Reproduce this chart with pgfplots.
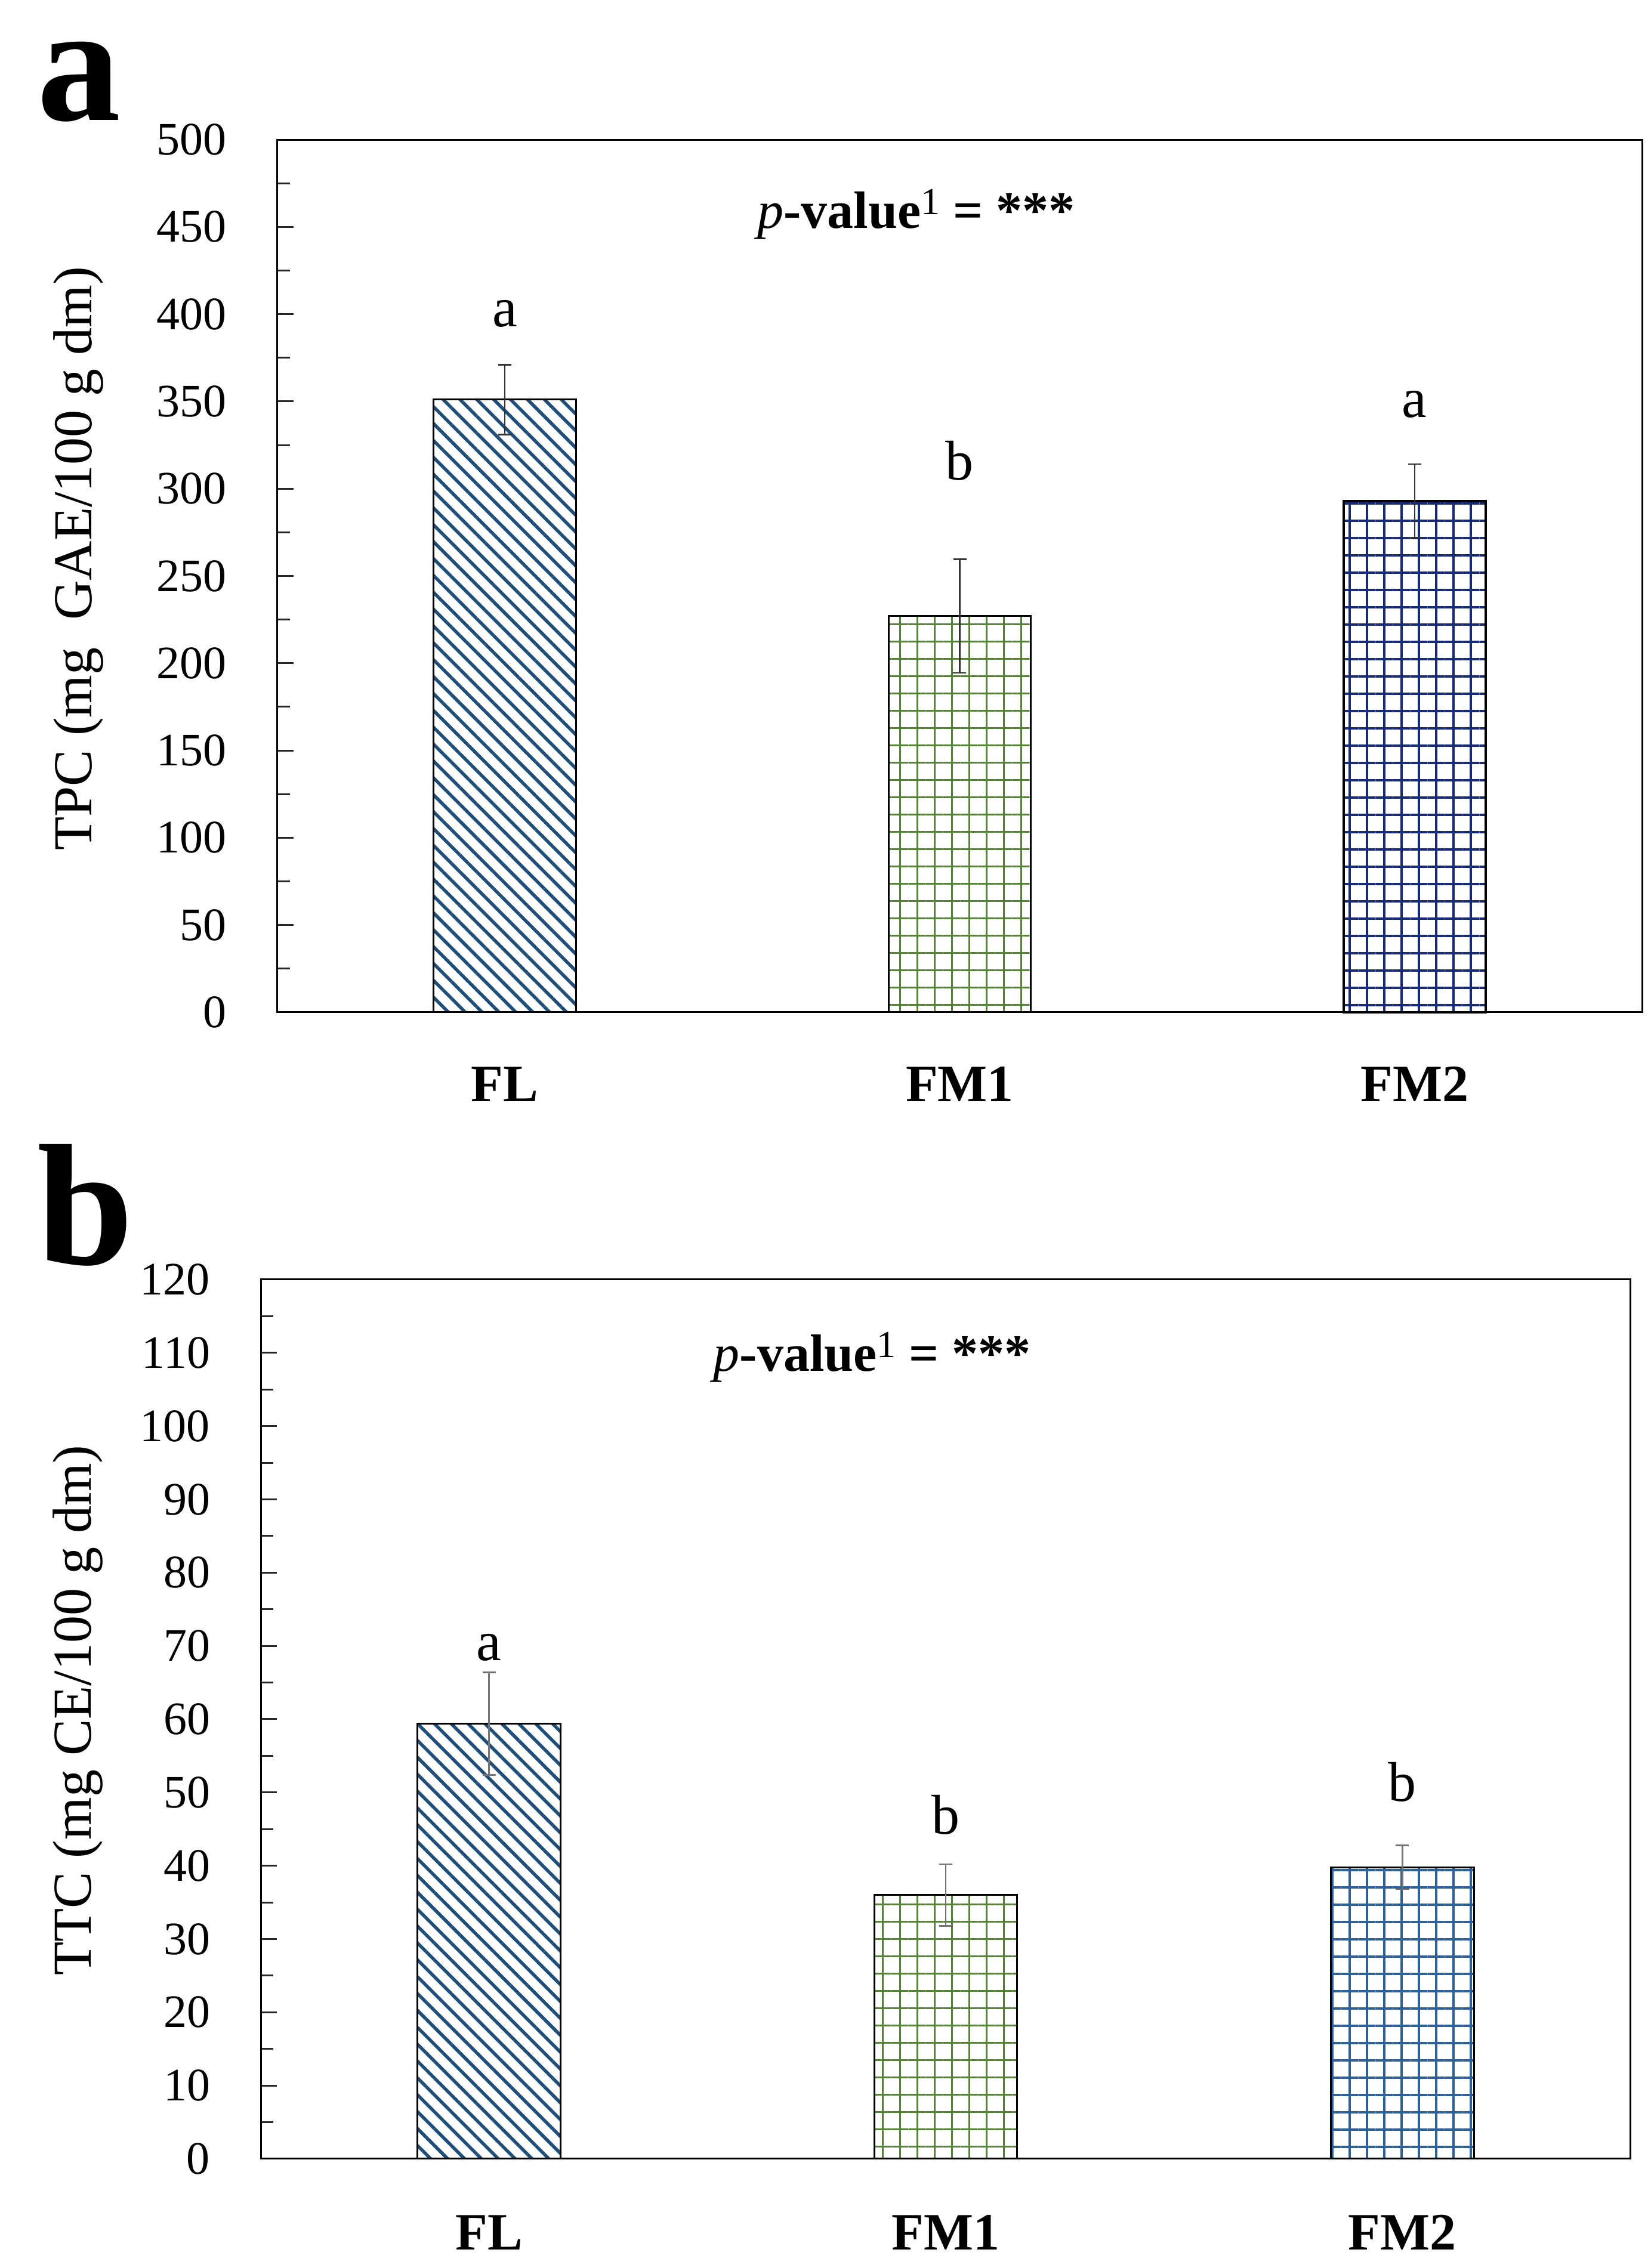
\documentclass[border=0pt]{standalone}
\usepackage{fontspec}
\setmainfont{Liberation Serif}
\usepackage{pgfplots}
\pgfplotsset{compat=1.18}
\usetikzlibrary{patterns.meta}
\definecolor{flblue}{RGB}{31,78,121}
\definecolor{fmgreen}{RGB}{84,130,53}
\definecolor{fmnavy}{RGB}{22,42,118}
\definecolor{fmblue}{RGB}{46,95,150}

\newcommand{\pval}{\textit{p}\textbf{-value}\raisebox{2.3pt}{\fontsize{6.4}{7}\selectfont 1}\textbf{ = ***}}

\pgfplotsset{
  panel/.style={
    scale only axis,
    ybar,
    xmin=-0.5, xmax=2.5, ymin=0,
    xtick={0,1,2}, xticklabels={FL,FM1,FM2},
    xtick style={draw=none},
    ytick pos=left,
    tick align=inside,
    major tick length=2.7pt,
    minor tick length=2.1pt,
    minor y tick num=1,
    axis line style={line width=0.3pt},
    every tick/.style={line width=0.3pt, black!85},
    /pgf/number format/assume math mode=true,
    yticklabel style={font=\fontsize{7.8}{9}\selectfont, inner sep=0pt, anchor=east, xshift=-8.3pt},
    xticklabel style={font=\fontsize{8.8}{10}\selectfont\bfseries, inner sep=0pt, anchor=base},
    ylabel style={font=\fontsize{9.2}{11}\selectfont, inner sep=0pt, anchor=base},
    bar width=0.313,
    clip=false,
  },
}

\begin{document}
\begin{tikzpicture}
\path[use as bounding box] (0,0) rectangle (276.6pt,380.2pt);

% ---------- panel a ----------
\begin{axis}[panel, at={(46.5pt,210.5pt)}, anchor=south west,
  width=228.7pt, height=146.3pt, ymax=500, ytick={0,50,...,500},
  xticklabel style={yshift=-15pt},
  ylabel={TPC (mg~~GAE/100 g dm)},
  ylabel style={at={(axis description cs:-0.1364,0.52)}},
]
\addplot[bar shift=0pt, draw=black, line width=0.3pt,
  pattern={Lines[angle=-45,distance=2.0pt,line width=0.55pt]}, pattern color=flblue,
  error bars/.cd, y dir=both, y explicit,
  error bar style={line width=0.25pt, color=black!80},
  error mark options={rotate=90, line width=0.25pt, mark size=1.1pt, color=black!80}]
  coordinates {(0,351) +- (0,20)};
\addplot[bar shift=0pt, draw=black, line width=0.3pt,
  pattern={Hatch[angle=0,distance=2.9pt,line width=0.3pt]}, pattern color=fmgreen,
  error bars/.cd, y dir=both, y explicit,
  error bar style={line width=0.25pt, color=black!80},
  error mark options={rotate=90, line width=0.25pt, mark size=1.1pt, color=black!80}]
  coordinates {(1,227) +- (0,32.5)};
\addplot[bar shift=0pt, draw=black, line width=0.4pt,
  pattern={Hatch[angle=0,distance=2.9pt,line width=0.4pt]}, pattern color=fmnavy,
  error bars/.cd, y dir=both, y explicit,
  error bar style={line width=0.25pt, color=black!80},
  error mark options={rotate=90, line width=0.25pt, mark size=1.1pt, color=black!80}]
  coordinates {(2,293) +- (0,21)};
\node[anchor=base, inner sep=0pt, font=\fontsize{9.4}{11}\selectfont] at (axis cs:0,393) {a};
\node[anchor=base, inner sep=0pt, font=\fontsize{9.4}{11}\selectfont] at (axis cs:1,305) {b};
\node[anchor=base, inner sep=0pt, font=\fontsize{9.4}{11}\selectfont] at (axis cs:2,341) {a};
\node[anchor=base, inner sep=0pt, font=\fontsize{8.8}{10}\selectfont] at (axis cs:0.904,449.4) {\pval};
\end{axis}

% ---------- panel b ----------
\begin{axis}[panel, at={(43.7pt,18.3pt)}, anchor=south west,
  width=229.6pt, height=147.4pt, ymax=120, ytick={0,10,...,120},
  xticklabel style={yshift=-15.3pt},
  ylabel={TTC (mg CE/100 g dm)},
  ylabel style={at={(axis description cs:-0.1237,0.51)}},
]
\addplot[bar shift=0pt, draw=black, line width=0.3pt,
  pattern={Lines[angle=-45,distance=2.0pt,line width=0.55pt]}, pattern color=flblue,
  error bars/.cd, y dir=both, y explicit,
  error bar style={line width=0.25pt, color=black!55},
  error mark options={rotate=90, line width=0.25pt, mark size=1.1pt, color=black!55}]
  coordinates {(0,59.4) +- (0,7.0)};
\addplot[bar shift=0pt, draw=black, line width=0.3pt,
  pattern={Hatch[angle=0,distance=2.9pt,line width=0.3pt]}, pattern color=fmgreen,
  error bars/.cd, y dir=both, y explicit,
  error bar style={line width=0.25pt, color=black!55},
  error mark options={rotate=90, line width=0.25pt, mark size=1.1pt, color=black!55}]
  coordinates {(1,36.0) +- (0,4.2)};
\addplot[bar shift=0pt, draw=black, line width=0.3pt,
  pattern={Hatch[angle=0,distance=2.9pt,line width=0.35pt]}, pattern color=fmblue,
  error bars/.cd, y dir=both, y explicit,
  error bar style={line width=0.25pt, color=black!55},
  error mark options={rotate=90, line width=0.25pt, mark size=1.1pt, color=black!55}]
  coordinates {(2,39.8) +- (0,3.0)};
\node[anchor=base, inner sep=0pt, font=\fontsize{9.4}{11}\selectfont] at (axis cs:0,68) {a};
\node[anchor=base, inner sep=0pt, font=\fontsize{9.4}{11}\selectfont] at (axis cs:1,44.3) {b};
\node[anchor=base, inner sep=0pt, font=\fontsize{9.4}{11}\selectfont] at (axis cs:2,48.8) {b};
\node[anchor=base, inner sep=0pt, font=\fontsize{8.8}{10}\selectfont] at (axis cs:0.839,107.5) {\pval};
\end{axis}

% panel letters
\node[anchor=base west, inner sep=0pt, font=\fontsize{28}{30}\selectfont\bfseries] at (6pt,360.0pt) {a};
\node[anchor=base west, inner sep=0pt, font=\fontsize{29}{32}\selectfont\bfseries] at (6pt,168.2pt) {b};
\end{tikzpicture}
\end{document}
